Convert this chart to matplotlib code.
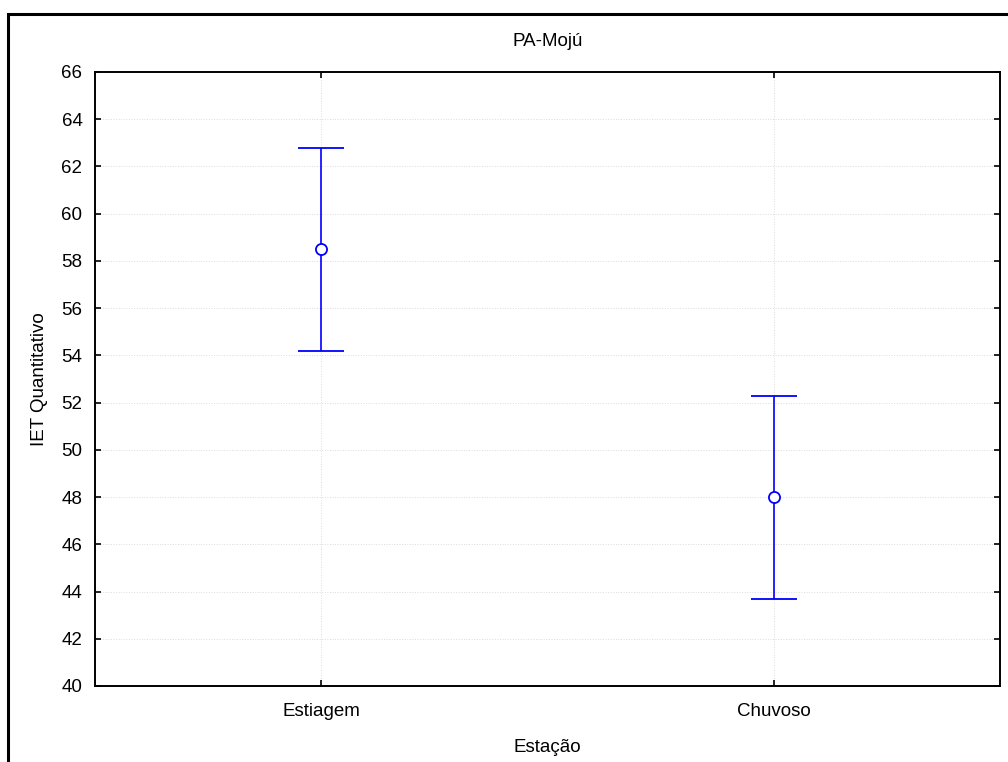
import matplotlib
matplotlib.use("Agg")
import matplotlib.pyplot as plt
from matplotlib.patches import Rectangle

categories = ["Estiagem", "Chuvoso"]
means = [58.5, 48.0]
upper = [62.8, 52.3]
lower = [54.2, 43.7]
yticks = list(range(40, 67, 2))

plt.rcParams['font.family'] = ['Liberation Sans', 'DejaVu Sans']
fig = plt.figure(figsize=(10.08, 7.62), dpi=100)
ax = fig.add_axes([95/1008, 1-686/762, 905/1008, 614/762])

# figure frame (left and top edges visible)
fig.add_artist(Rectangle((8/1008, -0.1), 1.2, 1 - 14/762 + 0.1, transform=fig.transFigure,
                         fill=False, edgecolor='black', linewidth=2.2, clip_on=False))

x = list(range(len(categories)))
yerr = [[m - l for m, l in zip(means, lower)], [u - m for m, u in zip(means, upper)]]
ax.errorbar(x, means, yerr=yerr, fmt='o', color='#0000ff', ecolor='#0000ff',
            elinewidth=1.2, capsize=16.5, capthick=1.2, markersize=8,
            markerfacecolor='white', markeredgecolor='#0000ff', markeredgewidth=1.3, zorder=3)

ax.set_xlim(-0.5, 1.5)
ax.set_ylim(40, 66)
ax.set_xticks(x)
ax.set_xticklabels(categories)
ax.set_yticks(yticks)
ax.grid(True, linestyle=':', color='#dcdcdc', linewidth=0.7)
ax.tick_params(direction='in', length=4, width=1.2, top=True, right=True, labelsize=13.5)
ax.tick_params(axis='x', pad=12)
ax.tick_params(axis='y', pad=9)
for s in ax.spines.values():
    s.set_linewidth(1.4)
ax.set_title("PA-Mojú", fontsize=13.5, pad=19)
ax.set_xlabel("Estação", fontsize=13.5, labelpad=14)
ax.set_ylabel("IET Quantitativo", fontsize=13.5, labelpad=10)

fig.savefig("out.png", dpi=100)
